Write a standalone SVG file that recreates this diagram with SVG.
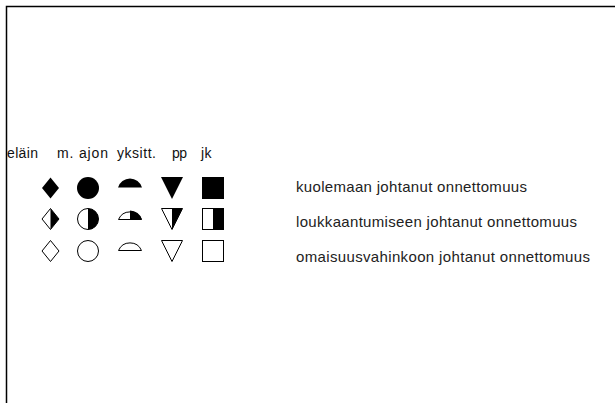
<svg xmlns="http://www.w3.org/2000/svg" width="615" height="403" viewBox="0 0 615 403">
<style>
.s{stroke:#000;stroke-width:1;fill:#fff}
.f{fill:#000;stroke:none}
.h{font-family:"Liberation Sans",Arial,sans-serif;font-size:14px;fill:#111}
.t{font-family:"Liberation Sans",Arial,sans-serif;font-size:15px;fill:#222}
</style>
<rect width="615" height="403" fill="#fff"/>
<g id="frame"><rect x="6.5" y="6.5" width="700" height="500" fill="none" stroke="#000" stroke-width="1.5"/></g>
<g id="headers">
<text class="h" x="7" y="158" textLength="31" lengthAdjust="spacing">eläin</text>
<text class="h" x="57" y="158" textLength="51" lengthAdjust="spacing">m. ajon</text>
<text class="h" x="117" y="158" textLength="39" lengthAdjust="spacing">yksitt.</text>
<text class="h" x="172" y="158" textLength="15" lengthAdjust="spacing">pp</text>
<text class="h" x="201" y="158" textLength="10.5" lengthAdjust="spacing">jk</text>
</g>
<!-- row 1: fatal -->
<g id="elain-fatal"><path class="f" d="M50.5,177.5 L59,188 L50.5,198.5 L42,188 Z"/></g>
<g id="ajon-fatal"><circle class="f" cx="88" cy="188" r="11"/></g>
<g id="yksitt-fatal"><path class="f" d="M118,187.5 A12.5,12.5 0 0 1 142,187.5 Z"/></g>
<g id="pp-fatal"><path class="f" d="M161,177 L183,177 L172,199 Z"/></g>
<g id="jk-fatal"><rect class="f" x="202" y="177" width="22" height="22"/></g>
<!-- row 2: injury -->
<g id="elain-injury"><path class="s" d="M50.5,208.5 L59,219 L50.5,229.5 L42,219 Z"/><path class="f" d="M50.5,208.5 L59,219 L50.5,229.5 Z"/></g>
<g id="ajon-injury"><circle class="s" cx="88" cy="219" r="10.5"/><path class="f" d="M88,208.5 A10.5,10.5 0 0 1 88,229.5 Z"/></g>
<g id="yksitt-injury"><path class="s" d="M118.5,219.5 A12.5,12.5 0 0 1 141.5,219.5 Z"/><path class="f" d="M130,210.5 A12.5,12.5 0 0 1 142,219.5 L130,219.5 Z"/></g>
<g id="pp-injury"><path class="s" d="M161.5,208.5 L182.5,208.5 L172,229.5 Z"/><path class="f" d="M172,208.5 L182.5,208.5 L172,229.5 Z"/></g>
<g id="jk-injury"><rect class="s" x="202.5" y="208.5" width="21" height="21"/><rect class="f" x="213" y="208.5" width="10.5" height="21"/></g>
<!-- row 3: property -->
<g id="elain-property"><path class="s" d="M50.5,240.5 L59,251 L50.5,261.5 L42,251 Z"/></g>
<g id="ajon-property"><circle class="s" cx="88" cy="251" r="10.5"/></g>
<g id="yksitt-property"><path class="s" d="M118.5,250.5 A12.5,12.5 0 0 1 141.5,250.5 Z"/></g>
<g id="pp-property"><path class="s" d="M161.5,240.5 L182.5,240.5 L172,261.5 Z"/></g>
<g id="jk-property"><rect class="s" x="202.5" y="240.5" width="21" height="21"/></g>
<g id="labels">
<text class="t" x="296" y="191.5" textLength="231" lengthAdjust="spacing">kuolemaan johtanut onnettomuus</text>
<text class="t" x="296" y="226.5" textLength="281" lengthAdjust="spacing">loukkaantumiseen johtanut onnettomuus</text>
<text class="t" x="296" y="261.5" textLength="294" lengthAdjust="spacing">omaisuusvahinkoon johtanut onnettomuus</text>
</g>
</svg>
